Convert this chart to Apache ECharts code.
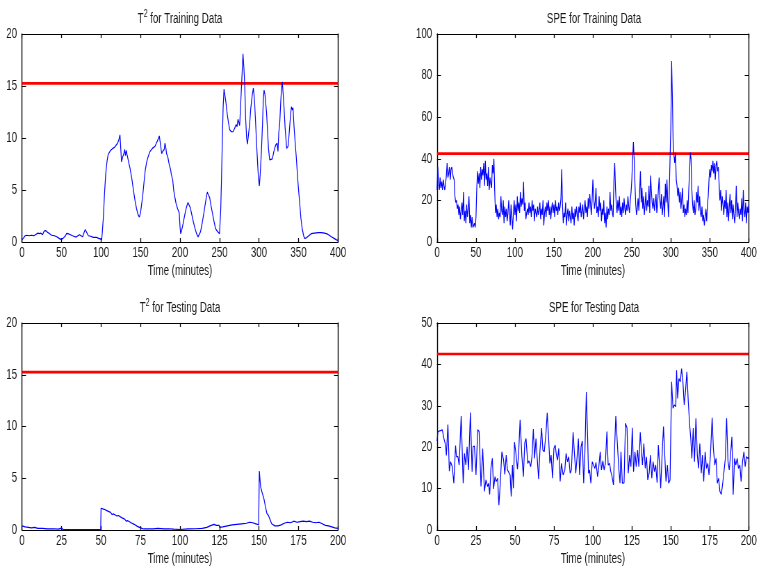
<!DOCTYPE html>
<html><head><meta charset="utf-8">
<script src="https://cdn.jsdelivr.net/npm/echarts@6/dist/echarts.min.js"></script>
<style>
html,body{margin:0;padding:0;background:#fff;overflow:hidden}
#wrap{width:759px;height:569px;overflow:hidden;position:relative}
#c{width:1092px;height:569px;transform:scaleX(0.695);transform-origin:0 0}
</style>
</head><body><div id="wrap"><div id="c"></div></div>
<script>
// ---------- data ----------
const t2Limit = 15.25;
const speLimit = 42.5;

const trainXTicks = [0, 50, 100, 150, 200, 250, 300, 350, 400];
const testXTicks = [0, 25, 50, 75, 100, 125, 150, 175, 200];
const t2YTicks = [0, 5, 10, 15, 20];
const speTrainYTicks = [0, 20, 40, 60, 80, 100];
const speTestYTicks = [0, 10, 20, 30, 40, 50];

// T² training: [time, value]
const t2Train = [
[0,0.2],[2,0.4],[4,0.6],[6,0.65],[9,0.6],[12,0.65],[15,0.6],[18,0.75],[20,0.85],[22,0.8],[24,0.85],[26,0.7],[28,1.05],[30,1.1],[32,0.95],[35,0.8],[37.5,0.65],[41,0.6],[44,0.5],[47,0.35],[49,0.25],[52,0.35],[55,0.6],[56.5,0.83],[60,0.75],[64,0.6],[67,0.5],[69,0.5],[72.6,0.7],[74,0.55],[76.8,0.5],[78,0.8],[80,1.2],[82,0.9],[84,0.6],[87,0.55],[90,0.45],[94.5,0.45],[97,0.35],[99,0.3],[100.8,0.2],
[101.5,0.8],[103,2.4],[104.5,4.8],[106,6.6],[107.5,7.7],[109,8.4],[112,8.8],[114.8,9.0],[117,9.1],[119,9.3],[121,9.5],[122.5,9.8],[124,10.3],[125,9],[126,7.7],[127.5,8.2],[129,8.5],[130,8.9],[131,8.3],[132,8.8],[133,8.4],[134.5,8.5],[135.5,7.5],[136.7,7.1],[139,6.1],[141,5],[143,4],[145,3.2],[147,2.6],[148.5,2.4],[150,2.8],[151.5,3.7],[152.7,4.4],[154.5,5.8],[156,6.9],[157.8,7.7],[160,8.3],[162,8.7],[165,9],[168.4,9.2],[170,9.5],[171.3,9.7],[172.5,9.8],[173.8,10.2],[175,9.5],[176,9.6],[176.8,8.5],[178,8.7],[180,8.9],[181,9.5],[182,9.1],[183,8.5],[184.5,8.2],[186.5,7.4],[188,7],[189,6.5],[190.7,6.0],[192,5],[193.5,4.3],[195,3.7],[197,3.2],[199,2.8],[200,1.5],[200.8,0.8],
[202,1.1],[204,1.8],[206,2.6],[208,3.3],[210,3.8],[211,3.8],[213,3.3],[215,2.6],[217,1.9],[219,1.3],[221,0.8],[222.8,0.5],[224.5,0.6],[226,1],[228,1.8],[230,2.7],[232,3.7],[233.5,4.4],[234.6,4.8],[236,4.5],[237.5,4.3],[239,3.6],[241,2.8],[243,2],[245,1.3],[246.5,1.1],[248,1.0],[250,0.8],
[251.5,3],[252.5,6],[253.6,9.8],[254.6,13],[255.7,14.7],[256.8,14.6],[258,13.5],[259.9,12.2],[261.5,11.4],[262.9,10.8],[265,10.6],[267,10.6],[269,10.9],[271,11.3],[272.2,11.1],[273.4,11.8],[274.5,11.5],[275.5,11.2],
[277.6,14.6],[279.7,18.1],[280.8,16.8],[281.8,15.3],[283,12],[284.3,10],[285.3,9.4],[286.5,10.2],[288.2,11.4],[289.5,12.8],[291.2,14],[292.8,14.8],[293.6,14.2],[294.5,13.3],[296,11],[297.5,8.6],[299,6.5],[300.4,5.4],[301.5,6.5],[303,8.6],[304.5,11.5],[305.5,13.8],[306.4,14.6],[307.5,14.2],[308.4,14.1],[309.5,12.5],[310.5,11.1],[312,9],[313.5,7.9],[315,7.8],[316.9,8],[318.5,8.6],[319.8,9],[321,9.3],[322.8,9.5],[324,8.7],[325,10.5],[326.2,11.4],[327.5,13.5],[328.5,14.8],[329.5,15.4],[330.5,14.3],[331.6,13],[333,11],[335,9],[336.7,9.2],[337.7,10],[338.8,11.1],[340,12.3],[341,13],[342.2,12.7],[343,12.9],[344.3,11.1],[345.8,9.5],[347.3,8],[349,6],[350.5,4.6],[351.5,3.7],[353,2.3],[354.9,1.2],[356.5,0.6],[357.8,0.35],[360,0.4],[363,0.6],[366,0.8],[370,0.85],[375,0.9],[379,0.9],[383,0.85],[387,0.75],[391.6,0.5],[395,0.35],[398,0.2],[400,0.15]
];

// SPE training: one value per minute, t = 0..400
const speTrain = [
25,36,28,25,31,26,29,25,30,27,
25,28,32,38,31,33,36,30,35,36,
33,31,30,22,19,20,16,18,13,17,
11,15,19,13,24,10,15,9,18,12,
16,22,9,13,7,12,7,8,9,7,
12,26,34,28,33,26,36,30,35,32,
38,27,39,30,33,27,36,25,31,28,
26,37,33,40,25,14,18,12,16,11,
14,12,22,15,13,20,9,17,12,16,
10,14,20,13,8,18,12,6,14,20,
13,18,10,22,15,19,14,24,17,21,
18,29,15,19,11,14,16,13,19,14,
17,12,20,15,18,10,16,14,12,17,
13,15,19,11,16,13,20,8,14,17,
12,19,15,20,13,17,11,16,19,14,
18,12,20,15,17,13,19,15,17,21,
35,18,9,14,12,19,8,13,16,10,
15,12,9,17,11,14,8,16,12,17,
13,10,17,14,19,12,15,18,11,16,
20,14,17,12,21,16,23,18,13,20,
30,22,16,19,26,14,17,12,22,15,
19,10,16,13,20,9,14,7,17,11,
16,13,24,15,18,14,12,30,38,26,
18,14,20,15,22,13,17,12,19,14,
21,16,13,18,15,22,17,14,20,24,
30,40,48,40,28,18,13,16,21,15,
24,34,19,26,16,22,13,18,24,15,
20,17,27,14,32,25,19,16,21,15,
19,23,14,18,25,31,20,16,23,13,
17,22,12,28,19,30,20,12,24,40,
55,87,70,48,42,38,43,30,27,22,
26,19,24,16,21,26,14,18,12,16,
13,20,14,25,33,43,40,25,18,14,
20,13,16,24,19,27,15,22,14,12,
17,10,13,8,12,16,10,18,22,30,
35,31,37,34,39,33,38,30,37,39,
34,36,28,20,25,15,22,18,13,20,
16,25,12,19,10,17,23,14,20,11,
18,13,9,15,27,12,19,14,11,16,
13,21,10,25,15,12,19,9,17,14,
18];

// T² testing: [time, value]
const t2Test = [
[0,0.4],[2,0.3],[4,0.25],[6,0.2],[8,0.25],[10,0.15],[13,0.15],[16,0.1],[20,0.12],[23,0.08],[25,0.18],[26,0.05],[30,0.05],[35,0.05],[40,0.05],[45,0.05],[49.8,0.05],
[50,2.1],[52,2.0],[54,1.85],[56,1.7],[57,1.5],[58,1.55],[60,1.35],[61,1.4],[63,1.2],[65,1.05],[66,0.85],[67,0.9],[69,0.7],[71,0.55],[73,0.35],[75,0.2],[77,0.1],[80,0.12],[83,0.1],[86,0.15],[90,0.1],[93,0.12],[96,0.08],[100,0.05],[105,0.1],[110,0.12],[114,0.15],[117,0.25],[119,0.4],[121.5,0.55],[123,0.45],[124.8,0.45],[125,0.25],[127,0.3],[130,0.4],[133,0.5],[136,0.55],[139,0.6],[142,0.65],[144,0.75],[146,0.7],[148,0.6],[149.8,0.5],
[150.2,5.7],[151,4.2],[152,3.6],[153,3.1],[154,2.3],[155,1.6],[156,1.4],[157,1],[158,0.6],[160,0.4],[162,0.4],[164,0.5],[166,0.65],[168,0.75],[170,0.7],[172,0.85],[174,0.75],[176,0.8],[178,0.85],[180,0.8],[182,0.85],[184,0.75],[186,0.7],[188,0.75],[190,0.6],[192,0.45],[194,0.4],[196,0.3],[198,0.2],[200,0.15]
];

// SPE testing: [time, value]
const speTest = [
[0,21.5],[0.6,23.8],[2.3,24],[3.4,24.2],[4.5,22],[5.5,20.5],[6,18],[7,25.5],[7.9,14.2],[8.7,16.5],[9.8,15.3],[10.8,11.3],[11.9,20.4],[12.5,17.7],[13.4,17.7],[14.2,15.7],[15.5,27.5],[16.8,11.3],[17.6,18.5],[18.5,15.7],[19.3,20.1],[20.2,14.5],[21.4,28.4],[22.5,14.1],[23.1,20.1],[24,20.3],[25,13.3],[26.1,24.2],[27,23.8],[28.2,10.5],[29.3,19.7],[30.4,9.3],[31.4,12.1],[32.5,10.5],[33.1,11.3],[33.8,8.6],[34.6,14.9],[35.5,17.3],[36.3,9.9],[37.2,12.9],[38,11.7],[38.9,12.5],[39.7,6],[40.6,11.3],[41.6,18.9],[42.7,16.9],[43.5,13.4],[44.4,18.1],[45.2,14.5],[46,14.5],[46.9,13.3],[47.6,8.1],[48.4,15.7],[49,10.1],[49.7,21.2],[50.5,18.9],[51.6,14.7],[52.4,18.9],[53.3,26.6],[54.4,18.1],[55.4,12.9],[56.3,21.1],[57.1,22.1],[58.2,16.1],[59,16.7],[60.1,15.3],[60.9,17.7],[61.8,24.4],[62.6,17.3],[63.5,22.1],[64.3,17.3],[65.2,12.3],[66,18.9],[67.1,24.6],[67.9,19.3],[68.8,18.9],[69.9,23.3],[70.7,28.3],[71.5,22.9],[72.4,16.1],[73.2,18.1],[74.1,12.5],[75,19.7],[75.8,20.5],[76.6,18.1],[77.3,16.9],[78.1,19.7],[79,11.7],[79.8,16.1],[80.9,13.3],[82,14.5],[82.8,18.5],[83.7,16.5],[84.5,17.7],[85.4,13.7],[86.2,14.5],[87.3,23.6],[88.3,17.7],[89,13.7],[89.8,17.3],[90.7,22.1],[91.5,13.3],[92.4,20.1],[93.2,21.5],[94.1,11.3],[94.9,18.9],[95.8,33.3],[96.6,22.9],[97.2,13.7],[97.9,14.5],[98.7,11.3],[99.6,16.5],[100.4,15.7],
[101.3,14.9],[102,16.3],[103,12.9],[103.8,15.3],[104.7,18.9],[105.5,14.5],[106.4,16.7],[107.2,14.5],[108,16.1],[109,23.8],[109.8,15.7],[110.7,16.1],[111.5,14.1],[112.3,12.9],[113.2,10.9],[114,20.5],[114.7,27.5],[115.7,20.9],[116.6,14.9],[117.4,11.3],[118,18.9],[118.9,11.3],[120,11.4],[120.9,25.8],[121.9,24.7],[122.7,13.7],[123.6,18.1],[124.4,15.3],[125.3,24.7],[126.1,14.1],[127,18.9],[127.8,15.3],[128.7,19.3],[129.5,15.3],[130.4,23.6],[131.2,18.9],[131.8,15.7],[132.7,20.9],[133.6,14.9],[134.4,17.7],[135.2,12.1],[136.1,13.7],[136.9,18.1],[137.8,12.5],[138.6,16.5],[139.5,14.1],[140.3,15.7],[141.2,11.4],[142,20.5],[142.7,16.1],[143.5,10.1],[144.4,18.1],[145.3,25],[146.1,18.1],[146.9,11.7],[147.8,15.7],[148.6,11.3],[149.5,12.1],[150.1,11.7],
[150.5,35.8],[151.4,29.4],[152.3,30.2],[153.2,29.8],[153.7,38.6],[154.4,31.8],[155.2,36.6],[156.1,35.8],[156.9,39],[157.7,36.2],[158.6,30.2],[159.4,33.4],[160.3,38.2],[161.2,31],[162.1,25.4],[162.8,22.1],[163.5,17.3],[164.4,24.6],[165.2,16.5],[166.1,27],[167,18.1],[167.8,14.9],[168.6,20.9],[169.5,13.7],[170.3,18.1],[171.1,11.7],[172,18.9],[172.9,14.9],[173.7,16.1],[174.5,13.3],[175.4,18.1],[176.5,27.1],[177.3,19.7],[178.2,15.7],[179,17.3],[179.8,11.3],[180.7,12.5],[181.5,9.3],[182.4,8.6],[183.3,11.3],[184,10.9],[185,17.3],[185.8,27],[186.7,16.5],[187.5,14.5],[188.3,18.1],[189.2,22.5],[190,8.5],[190.9,17.3],[191.7,15.7],[192.6,17.3],[193.4,14.9],[194.3,15.7],[195.1,11.7],[196,16.5],[196.9,18.9],[197.7,15.3],[198.5,17.7],[199.4,17.3],[200,17.5]
];

// ---------- layout ----------
// The chart is drawn wide and squeezed horizontally (CSS scaleX) to mimic the narrow lettering of the original.
const K = 0.695;
const FONT = '"Liberation Sans", Arial, Helvetica, sans-serif';
const TXT = '#1a1a1a';

const panels = [
  { sup: true,  titleA: 'T', titleB: ' for Training Data', box: [22, 34, 316, 208],
    xTicks: trainXTicks, yTicks: t2YTicks, data: t2Train, limit: t2Limit },
  { sup: false, titleA: 'SPE for Training Data', titleB: '', box: [437, 34, 314, 208],
    xTicks: trainXTicks, yTicks: speTrainYTicks, data: speTrain.map((v, i) => [i, v]), limit: speLimit },
  { sup: true,  titleA: 'T', titleB: ' for Testing Data', box: [22, 323, 316, 207],
    xTicks: testXTicks, yTicks: t2YTicks, data: t2Test, limit: t2Limit },
  { sup: false, titleA: 'SPE for Testing Data', titleB: '', box: [437, 323, 314, 207],
    xTicks: testXTicks, yTicks: speTestYTicks, data: speTest, limit: speLimit }
];

const grid = [], xAxis = [], yAxis = [], series = [], graphic = [];
panels.forEach((p, i) => {
  const [l0, t, w0, h] = p.box;
  const l = l0 / K, w = w0 / K;
  grid.push({ left: l, top: t, width: w, height: h, containLabel: false, show: false });
  const xMin = p.xTicks[0], xMax = p.xTicks[p.xTicks.length - 1];
  const yMin = p.yTicks[0], yMax = p.yTicks[p.yTicks.length - 1];
  const xInt = p.xTicks[1] - p.xTicks[0], yInt = p.yTicks[1] - p.yTicks[0];
  const hLine = { show: true, onZero: false, lineStyle: { color: '#000', width: 1 } };
  const vLine = { show: true, onZero: false, lineStyle: { color: '#000', width: 1.4 } };
  const xTick = { show: true, inside: true, length: 4, lineStyle: { color: '#000', width: 1.3 } };
  const yTick = { show: true, inside: true, length: 4 / K, lineStyle: { color: '#000', width: 1 } };
  const lab = { color: TXT, fontFamily: FONT, fontSize: 14 };
  xAxis.push({ gridIndex: i, type: 'value', position: 'bottom', min: xMin, max: xMax, interval: xInt,
    axisLine: hLine, axisTick: xTick, splitLine: { show: false },
    axisLabel: Object.assign({ margin: 4, showMinLabel: true, showMaxLabel: true, hideOverlap: false }, lab),
    name: 'Time (minutes)', nameLocation: 'middle', nameGap: 22,
    nameTextStyle: { color: TXT, fontFamily: FONT, fontSize: 14 } });
  xAxis.push({ gridIndex: i, type: 'value', position: 'top', min: xMin, max: xMax, interval: xInt,
    axisLine: hLine, axisTick: xTick, splitLine: { show: false }, axisLabel: { show: false } });
  yAxis.push({ gridIndex: i, type: 'value', position: 'left', min: yMin, max: yMax, interval: yInt,
    axisLine: vLine, axisTick: yTick, splitLine: { show: false },
    axisLabel: Object.assign({ margin: 7 }, lab) });
  yAxis.push({ gridIndex: i, type: 'value', position: 'right', min: yMin, max: yMax, interval: yInt,
    axisLine: vLine, axisTick: yTick, splitLine: { show: false }, axisLabel: { show: false } });

  series.push({ type: 'line', xAxisIndex: 2 * i, yAxisIndex: 2 * i, showSymbol: false, silent: true,
    data: [[xMin, p.limit], [xMax, p.limit]], lineStyle: { color: '#ff0000', width: 2.6 }, z: 2 });
  series.push({ type: 'line', xAxisIndex: 2 * i, yAxisIndex: 2 * i, showSymbol: false, silent: true,
    data: p.data, lineStyle: { color: '#0000ff', width: 1.2 }, z: 3 });

  const text = p.sup ? '{a|' + p.titleA + '}{b|2}{a|' + p.titleB + '}' : '{a|' + p.titleA + '}';
  graphic.push({ type: 'text', x: l + w / 2, y: t - 15, silent: true,
    style: { text: text, align: 'center', verticalAlign: 'middle', fill: TXT,
      rich: { a: { fontFamily: FONT, fontSize: 14, fill: TXT },
              b: { fontFamily: FONT, fontSize: 10, fill: TXT, padding: [0, 0, 10, 0] } } } });
});

const chart = echarts.init(document.getElementById('c'), null, { renderer: 'canvas' });
chart.setOption({ animation: false, backgroundColor: '#fff', grid, xAxis, yAxis, series, graphic });
</script></body></html>
